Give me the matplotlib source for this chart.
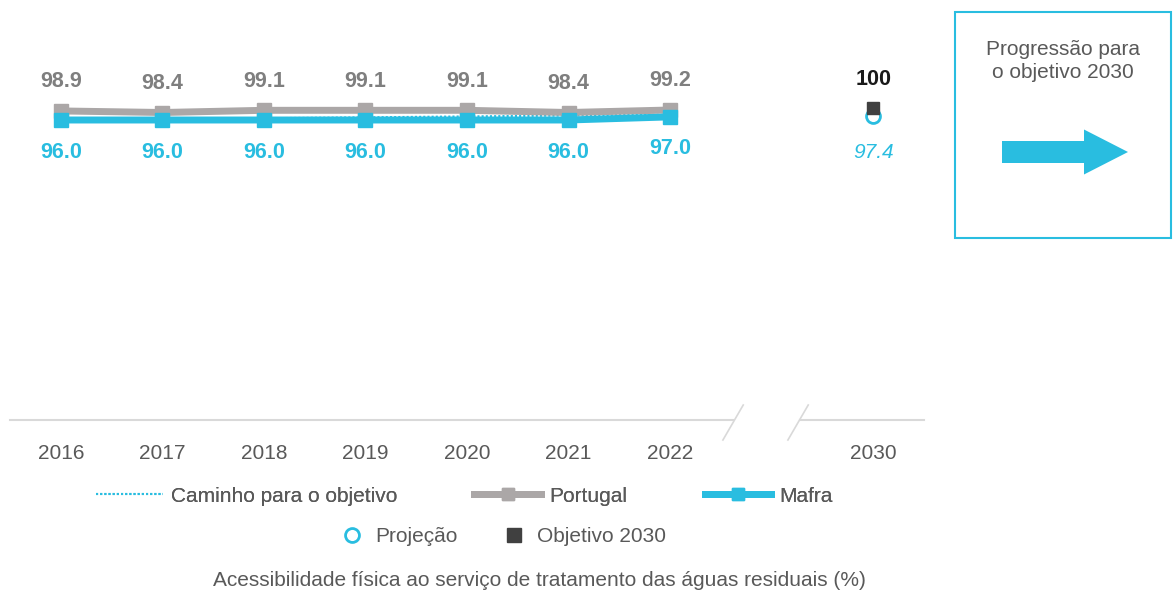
import matplotlib
matplotlib.use("Agg")
import matplotlib.pyplot as plt
from matplotlib.lines import Line2D
from matplotlib.patches import Rectangle, FancyArrow

plt.rcParams['font.family'] = ['Liberation Sans', 'DejaVu Sans']

years = ["2016", "2017", "2018", "2019", "2020", "2021", "2022"]
target_year = "2030"
portugal = [98.9, 98.4, 99.1, 99.1, 99.1, 98.4, 99.2]
mafra = [96.0, 96.0, 96.0, 96.0, 96.0, 96.0, 97.0]
path_to_goal = [96.0, 96.29, 96.57, 96.86, 97.14, 97.43, 97.71]
projection_2030 = 97.4
objective_2030 = 100

CYAN = "#29BDE0"
GRAY = "#ABA7A7"
LABEL_GRAY = "#7F7F7F"
DARK = "#404040"
TEXT = "#595959"
AXIS = "#D9D9D9"

fig = plt.figure(figsize=(11.73, 5.90), dpi=100)
ax = fig.add_axes([10/1173, 170/590, 914/1173, 330/590])
ax.set_xlim(-0.5, 8.5)
ax.set_ylim(0, 105.6)
for s in ax.spines.values():
    s.set_visible(False)
ax.set_yticks([])

xs = list(range(len(years)))
x_target = len(years) + 1

ax.plot(xs, path_to_goal, linestyle=(0, (1, 1)), color=CYAN, lw=1.5, zorder=2)
ax.plot(xs, portugal, color=GRAY, lw=5, marker='s', ms=10, zorder=3)
ax.plot(xs, mafra, color=CYAN, lw=5, marker='s', ms=10, zorder=4)

for x, v in zip(xs, portugal):
    ax.annotate(f"{v:.1f}", (x, v), xytext=(0, 29), textcoords='offset pixels',
                ha='center', va='center', fontsize=15.5, fontweight='bold', color=LABEL_GRAY)
for x, v in zip(xs, mafra):
    ax.annotate(f"{v:.1f}", (x, v), xytext=(0, -32), textcoords='offset pixels',
                ha='center', va='center', fontsize=15.5, fontweight='bold', color=CYAN)

ax.plot([x_target], [projection_2030], linestyle='none', marker='o', ms=10,
        mfc='white', mec=CYAN, mew=2, zorder=5)
ax.plot([x_target], [objective_2030], linestyle='none', marker='s', ms=9,
        color=DARK, zorder=6)
ax.annotate(f"{objective_2030}", (x_target, objective_2030), xytext=(0, 28),
            textcoords='offset pixels', ha='center', va='center', fontsize=15.5,
            fontweight='bold', color='#1A1A1A')
ax.annotate(f"{projection_2030:.1f}", (x_target, projection_2030), xytext=(0, -37),
            textcoords='offset pixels', ha='center', va='center', fontsize=15,
            fontstyle='italic', color=CYAN)

# axis baseline with break
ax.plot([-0.5, 6.62], [0, 0], color=AXIS, lw=1.5, clip_on=False)
ax.plot([7.28, 8.5], [0, 0], color=AXIS, lw=1.5, clip_on=False)
ax.plot([6.52, 6.72], [-6.4, 4.8], color=AXIS, lw=1.2, clip_on=False)
ax.plot([7.16, 7.36], [-6.4, 4.8], color=AXIS, lw=1.2, clip_on=False)

ax.set_xticks(xs + [x_target])
ax.set_xticklabels(years + [target_year], fontsize=15, color=TEXT)
ax.tick_params(axis='x', length=0, pad=17)

# legends
h1 = [Line2D([], [], color=CYAN, lw=1.5, linestyle=(0, (1, 1))),
      Line2D([], [], color=GRAY, lw=5, marker='s', ms=8),
      Line2D([], [], color=CYAN, lw=5, marker='s', ms=8)]
leg1 = fig.legend(h1, ["Caminho para o objetivo", "Portugal", "Mafra"], loc='center left',
                  bbox_to_anchor=(96/1173, 1 - 496/590), ncol=3, frameon=False,
                  fontsize=15, handlelength=3.2, columnspacing=3.7, handletextpad=0.4,
                  labelcolor=TEXT, borderpad=0, borderaxespad=0)
h2 = [Line2D([], [], linestyle='none', marker='o', ms=10, mfc='white', mec=CYAN, mew=2),
      Line2D([], [], linestyle='none', marker='s', ms=10, color=DARK)]
leg2 = fig.legend(h2, ["Projeção", "Objetivo 2030"], loc='center left',
                  bbox_to_anchor=(342/1173, 1 - 537/590), ncol=2, frameon=False,
                  fontsize=15, handlelength=1.0, columnspacing=2.2, handletextpad=0.6,
                  labelcolor=TEXT, borderpad=0, borderaxespad=0)
fig.add_artist(leg1)

fig.text(539/1173, 1 - 580/590,
         "Acessibilidade física ao serviço de tratamento das águas residuais (%)",
         ha='center', va='center', fontsize=15, color=TEXT)

# right box
fig.add_artist(Rectangle((955/1173, 1 - 238/590), 216/1173, 226/590,
                         transform=fig.transFigure, fill=False, edgecolor=CYAN, lw=1.5))
fig.text(1063/1173, 1 - 61/590, "Progressão para\no objetivo 2030", ha='center',
         va='center', fontsize=15, color=TEXT, linespacing=1.3)
fig.add_artist(FancyArrow(1002/1173, 1 - 152/590, 126/1173, 0,
                          width=22/590, head_width=45/590, head_length=44/1173,
                          length_includes_head=True, transform=fig.transFigure,
                          color=CYAN, lw=0))

fig.savefig("out.png", dpi=100)
